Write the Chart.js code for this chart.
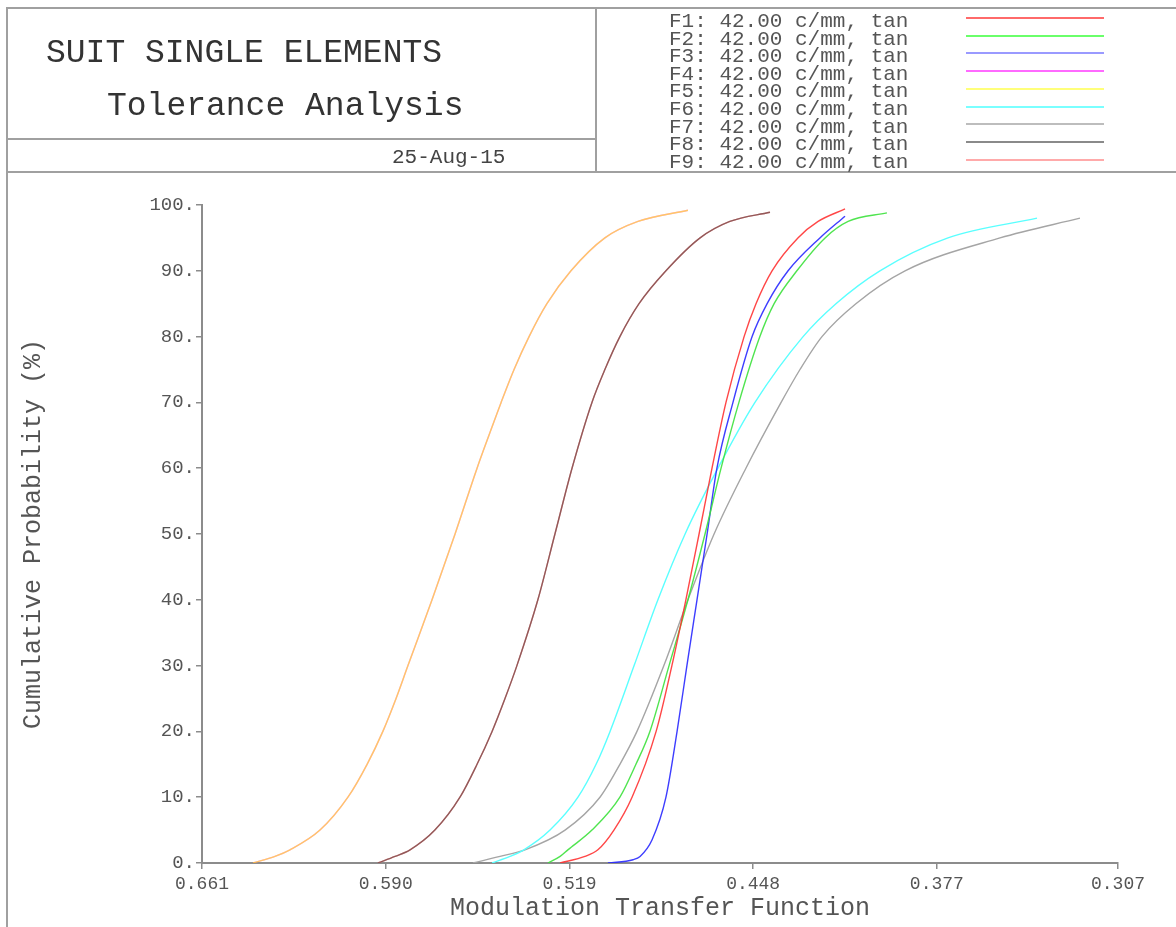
<!DOCTYPE html>
<html>
<head>
<meta charset="utf-8">
<script src="https://cdn.jsdelivr.net/npm/chart.js"></script>
<style>
  html, body { margin: 0; padding: 0; background: #fff; }
  #wrap { position: relative; width: 1176px; height: 927px; overflow: hidden;
          font-family: "Liberation Mono", "DejaVu Sans Mono", monospace; }
  canvas { position: absolute; left: 0; top: 0; }
  .ln { position: absolute; background: #a0a0a0; }
  .txt { position: absolute; white-space: pre; line-height: 1; }
  .key { position: absolute; height: 2px; }
</style>
</head>
<body>
<div id="wrap">
  <canvas id="chart" width="1176" height="927"></canvas>
  <div class="ln" style="left:6px;top:7px;width:1170px;height:2px"></div>
  <div class="ln" style="left:6px;top:7px;width:2px;height:920px"></div>
  <div class="ln" style="left:595px;top:7px;width:2px;height:165px"></div>
  <div class="ln" style="left:6px;top:138px;width:590px;height:2px"></div>
  <div class="ln" style="left:6px;top:171px;width:1170px;height:2px"></div>
  <div class="txt" style="left:46px;top:37px;font-size:33px;color:#333">SUIT SINGLE ELEMENTS</div>
  <div class="txt" style="left:107px;top:90px;font-size:33px;color:#333">Tolerance Analysis</div>
  <div class="txt" style="left:392px;top:147px;font-size:21px;color:#444">25-Aug-15</div>
  <div id="legend"></div>
</div>
<script>
// field labels
const fieldNames = ['F1', 'F2', 'F3', 'F4', 'F5', 'F6', 'F7', 'F8', 'F9'];
const fieldSpec = '42.00 c/mm, tan';

// axis ticks
const xTickLabels = ['0.661', '0.590', '0.519', '0.448', '0.377', '0.307'];
const yTickValues = [0, 10, 20, 30, 40, 50, 60, 70, 80, 90, 100];

// curves (MTF value, cumulative probability %)
const f1Mtf  = [0.5226, 0.5130, 0.5080, 0.5018, 0.4948, 0.4855, 0.4794, 0.4740, 0.4689, 0.4639, 0.4585, 0.4515, 0.4469, 0.4407, 0.4307, 0.4229, 0.4125];
const f1Prob = [0, 1, 2, 5, 10, 20, 30, 40, 50, 60, 70, 80, 85, 90, 95, 97.5, 99.4];

const f2Mtf  = [0.5273, 0.5226, 0.5196, 0.5103, 0.4995, 0.4933, 0.4879, 0.4805, 0.4732, 0.4666, 0.4604, 0.4535, 0.4454, 0.4399, 0.4311, 0.4202, 0.4113, 0.3963];
const f2Prob = [0, 1, 2, 5, 10, 15, 20, 30, 40, 50, 60, 70, 80, 85, 90, 95, 97.5, 98.8];

const f3Mtf  = [0.5041, 0.4944, 0.4917, 0.4871, 0.4817, 0.4774, 0.4736, 0.4697, 0.4658, 0.4620, 0.4558, 0.4484, 0.4426, 0.4345, 0.4222, 0.4125];
const f3Prob = [0, 0.5, 1, 3.5, 10, 20, 30, 40, 50, 60, 70, 80, 85, 90, 95, 98.3];

// F4 and F5 lie on top of each other
const f45Mtf  = [0.6413, 0.6328, 0.6270, 0.6154, 0.6046, 0.5972, 0.5911, 0.5860, 0.5814, 0.5721, 0.5632, 0.5547, 0.5501, 0.5454, 0.5404, 0.5346, 0.5277, 0.5184, 0.5053, 0.4925, 0.4732];
const f45Prob = [0, 1, 2, 5, 10, 15, 20, 25, 30, 40, 50, 60, 65, 70, 75, 80, 85, 90, 95, 97.5, 99.2];

const f6Mtf  = [0.5489, 0.5420, 0.5366, 0.5265, 0.5157, 0.5087, 0.5033, 0.4940, 0.4848, 0.4743, 0.4616, 0.4473, 0.4287, 0.4160, 0.3990, 0.3727, 0.3383];
const f6Prob = [0, 1, 2, 5, 10, 15, 20, 30, 40, 50, 60, 70, 80, 85, 90, 95, 98];

const f7Mtf  = [0.5563, 0.5458, 0.5362, 0.5207, 0.5072, 0.4995, 0.4929, 0.4825, 0.4732, 0.4631, 0.4508, 0.4372, 0.4299, 0.4214, 0.4083, 0.3893, 0.3526, 0.3217];
const f7Prob = [0, 1, 2, 5, 10, 15, 20, 30, 40, 50, 60, 70, 75, 80, 85, 90, 95, 98];

// F8 and F9 lie on top of each other
const f89Mtf  = [0.5930, 0.5864, 0.5806, 0.5710, 0.5613, 0.5547, 0.5489, 0.5439, 0.5393, 0.5312, 0.5246, 0.5180, 0.5103, 0.5053, 0.4995, 0.4921, 0.4817, 0.4685, 0.4570, 0.4415];
const f89Prob = [0, 1, 2, 5, 10, 15, 20, 25, 30, 40, 50, 60, 70, 75, 80, 85, 90, 95, 97.5, 98.9];

const seriesMtf  = [f1Mtf, f2Mtf, f3Mtf, f45Mtf, f45Mtf, f6Mtf, f7Mtf, f89Mtf, f89Mtf];
const seriesProb = [f1Prob, f2Prob, f3Prob, f45Prob, f45Prob, f6Prob, f7Prob, f89Prob, f89Prob];

const lineColors = [
  'rgba(255,50,50,0.9)', 'rgba(60,225,60,0.9)', 'rgba(40,40,255,0.9)',
  'rgba(255,0,255,0.55)', 'rgba(255,255,0,0.6)', 'rgba(90,255,255,1)',
  'rgba(165,165,165,1)', 'rgba(70,70,70,0.6)', 'rgba(255,120,120,1)'
];
const keyColors = ['#ff6a6a', '#6aff6a', '#9a9aff', '#ff6aff', '#ffff7a', '#7affff', '#bdbdbd', '#8a8a8a', '#ffaaaa'];
const drawOrder = [0, 0, 0, 0, -1, 0, 0, -1, 0];

// header legend
const legend = document.getElementById('legend');
fieldNames.forEach((name, i) => {
  const t = document.createElement('div');
  t.className = 'txt';
  t.style.cssText = `left:669px;top:${11 + i * 17.6}px;font-size:21px;color:#555`;
  t.textContent = `${name}: ${fieldSpec}`;
  legend.appendChild(t);
  const k = document.createElement('div');
  k.className = 'key';
  k.style.cssText = `left:966px;top:${17 + i * 17.7}px;width:138px;background:${keyColors[i]}`;
  legend.appendChild(k);
});

const mono = '"Liberation Mono", "DejaVu Sans Mono", monospace';
const axisGrey = '#8c8c8c';
const textGrey = '#555';

const datasets = fieldNames.map((name, i) => ({
  label: name,
  data: seriesMtf[i].map((x, j) => ({ x: x, y: seriesProb[i][j] })),
  showLine: true,
  borderColor: lineColors[i],
  borderWidth: 1.4,
  pointRadius: 0,
  cubicInterpolationMode: 'monotone',
  order: drawOrder[i]
}));

new Chart(document.getElementById('chart').getContext('2d'), {
  type: 'scatter',
  data: { datasets },
  options: {
    responsive: false,
    animation: false,
    devicePixelRatio: 1,
    layout: { padding: { left: 0, top: 205, right: 58, bottom: 0 } },
    plugins: { legend: { display: false }, tooltip: { enabled: false } },
    scales: {
      x: {
        type: 'linear',
        reverse: true,
        min: parseFloat(xTickLabels[xTickLabels.length - 1]),
        max: parseFloat(xTickLabels[0]),
        afterBuildTicks: s => { s.ticks = xTickLabels.map(t => ({ value: parseFloat(t) })); },
        afterFit: s => { s.height = 64; },
        ticks: {
          autoSkip: false, maxRotation: 0, padding: 4, color: textGrey,
          font: { family: mono, size: 18 },
          callback: (v, i) => xTickLabels[i]
        },
        grid: { drawOnChartArea: false, drawTicks: true, tickLength: 6, color: axisGrey, lineWidth: 1.5 },
        border: { display: true, color: axisGrey, width: 2 },
        title: {
          display: true, text: 'Modulation Transfer Function', color: textGrey,
          font: { family: mono, size: 25 }, padding: { top: 0, bottom: 4 }
        }
      },
      y: {
        min: 0,
        max: 100,
        afterBuildTicks: s => { s.ticks = yTickValues.map(v => ({ value: v })); },
        afterFit: s => { s.width = 202; },
        ticks: {
          autoSkip: false, padding: 1, color: textGrey,
          font: { family: mono, size: 19 },
          callback: v => v + '.'
        },
        grid: { drawOnChartArea: false, drawTicks: true, tickLength: 6, color: axisGrey, lineWidth: 1.5 },
        border: { display: true, color: axisGrey, width: 2 },
        title: {
          display: true, text: 'Cumulative Probability (%)', color: textGrey,
          font: { family: mono, size: 25 }, padding: { top: 18, bottom: 0 }
        }
      }
    }
  }
});
</script>
</body>
</html>
